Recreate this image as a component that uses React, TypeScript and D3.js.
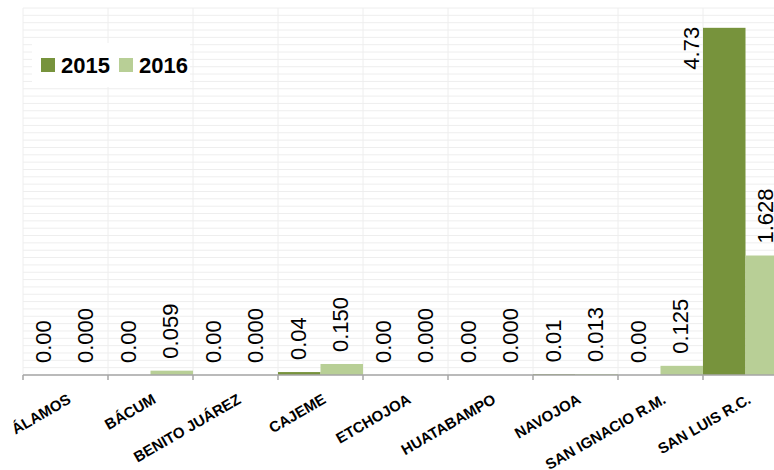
import React from "react";
import * as d3 from "d3";

const categories = ["ÁLAMOS", "BÁCUM", "BENITO JUÁREZ", "CAJEME", "ETCHOJOA", "HUATABAMPO", "NAVOJOA", "SAN IGNACIO R.M.", "SAN LUIS R.C."];
const series = ["2015", "2016"];
const values2015 = [0, 0, 0, 0.04, 0, 0, 0.01, 0, 4.73];
const values2016 = [0, 0.059, 0, 0.15, 0, 0, 0.013, 0.125, 1.628];
const decimals = [2, 3];
const colors = ["#77933C", "#B8CF96"];
const yMax = 5;

const W = 774, H = 470;
const left = 23, bandW = 85, top = 8, baseline = 375;

export default function App() {
  const x = d3.scaleBand<string>().domain(categories).range([left, left + bandW * categories.length]).padding(0);
  const xs = d3.scaleBand<string>().domain(series).range([0, x.bandwidth()]).padding(0);
  const y = d3.scaleLinear().domain([0, yMax]).range([baseline, top]);
  const data = [values2015, values2016];
  const gridY = d3.range(0, Math.round(yMax * 10) + 1).map((i) => i / 10);
  const plotRight = x.range()[1];
  const labelFont = "'Liberation Sans', Arial, sans-serif";

  return (
    <svg width={W} height={H} style={{ position: "absolute", left: 0, top: 0, background: "#fff" }} fontFamily={labelFont}>
      {gridY.map((v) => (
        <line key={"h" + v} x1={left} x2={plotRight} y1={y(v)} y2={y(v)} stroke="#EEEEEE" strokeWidth={1} />
      ))}
      {categories.map((c) => (
        <line key={"v" + c} x1={x(c)!} x2={x(c)!} y1={top} y2={baseline} stroke="#EEEEEE" strokeWidth={1} />
      ))}
      {series.map((s, si) =>
        categories.map((c, ci) => {
          const v = data[si][ci];
          const x0 = x(c)! + xs(s)!;
          return <rect key={s + c} x={x0} y={y(v)} width={xs.bandwidth()} height={baseline - y(v)} fill={colors[si]} />;
        })
      )}
      <line x1={left} x2={plotRight} y1={baseline} y2={baseline} stroke="#A6A6A6" strokeWidth={1.5} />
      {categories.map((c) => (
        <line key={"t" + c} x1={x(c)!} x2={x(c)!} y1={baseline} y2={baseline + 5} stroke="#A6A6A6" strokeWidth={1.5} />
      ))}
      {series.map((s, si) =>
        categories.map((c, ci) => {
          const v = data[si][ci];
          const x0 = x(c)! + xs(s)!;
          const cx = x0 + xs.bandwidth() / 2 - 1;
          const label = v.toFixed(decimals[si]);
          const estLen = label.length * 12;
          const yt = y(v);
          if (yt - 12 - estLen < top) {
            return (
              <text key={"l" + s + c} transform={`translate(${x0 - 12},${yt - 1}) rotate(-90)`} textAnchor="end" dy="0.35em" fontSize={22} fill="#000">
                {label}
              </text>
            );
          }
          return (
            <text key={"l" + s + c} transform={`translate(${cx},${yt - 12}) rotate(-90)`} textAnchor="start" dy="0.35em" fontSize={22} fill="#000">
              {label}
            </text>
          );
        })
      )}
      {categories.map((c) => (
        <text key={"c" + c} transform={`translate(${x(c)! + x.bandwidth() / 2 + 1},${baseline + 18}) rotate(-30)`} textAnchor="end" dy="0.72em" fontSize={15} fontWeight="bold" fill="#000">
          {c}
        </text>
      ))}
      <g>
        <rect x={32} y={43} width={158} height={44} fill="#fff" />
        {series.map((s, i) => (
          <g key={"lg" + s} transform={`translate(${41 + i * 78},58)`}>
            <rect x={0} y={0} width={14} height={14} fill={colors[i]} />
            <text x={20} y={14.5} fontSize={22} fontWeight="bold" fill="#000">{s}</text>
          </g>
        ))}
      </g>
    </svg>
  );
}
